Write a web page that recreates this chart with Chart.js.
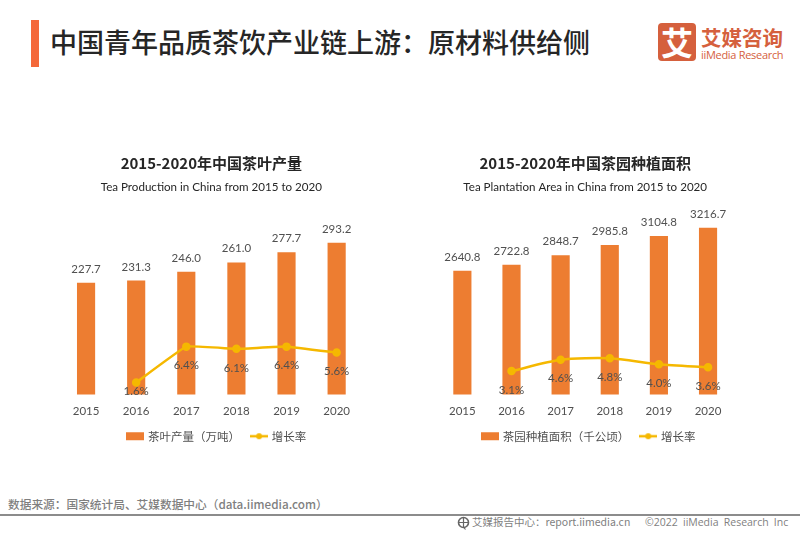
<!DOCTYPE html>
<html lang="zh"><head><meta charset="utf-8">
<script src="https://cdn.jsdelivr.net/npm/chart.js@4"></script>
<style>
html,body{margin:0;padding:0;background:#fff;width:800px;height:533px;overflow:hidden}
body{position:relative;font-family:"Noto Sans CJK SC","Noto Sans",sans-serif}
.a{position:absolute;white-space:nowrap}
canvas{position:absolute}
</style></head><body>
<div class="a" style="left:31px;top:20px;width:8px;height:47px;background:#f4683a"></div>
<div class="a" style="left:50px;top:22px;font-size:27px;line-height:40px;font-weight:500;color:#262626">中国青年品质茶饮产业链上游：原材料供给侧</div>
<div class="a" style="left:658px;top:23px;width:38px;height:38px;border-radius:4px;background:#d5603d;color:#fff;font-size:32px;line-height:37px;font-weight:700;text-align:center">艾</div>
<div class="a" style="left:701px;top:24px;font-size:20.5px;line-height:26px;font-weight:700;color:#d5603d">艾媒咨询</div>
<div class="a" style="left:701px;top:48px;font-family:'Open Sans';font-size:11px;line-height:14px;color:#d5603d;letter-spacing:-.3px">iiMedia Research</div>
<canvas id="c1" width="426" height="302" style="left:0;top:150px;width:426px;height:302px"></canvas>
<canvas id="c2" width="317" height="302" style="left:426px;top:150px;width:317px;height:302px"></canvas>
<div class="a" style="left:8px;top:496px;font-size:11.7px;line-height:16px;font-weight:500;color:#7f7f7f">数据来源：国家统计局、艾媒数据中心（data.iimedia.com）</div>
<div class="a" style="left:0;top:514px;width:800px;height:2px;background:#8c8c8c"></div>
<svg class="a" style="left:457px;top:516px" width="13" height="14" viewBox="0 0 13 14"><circle cx="6.5" cy="6.5" r="5" fill="none" stroke="#666" stroke-width="1.6"/><path d="M2 6.5h9M6.5 1.5v10M6.5 11l2 2.5" fill="none" stroke="#666" stroke-width="1.2"/></svg>
<div class="a" style="left:472px;top:515px;font-size:10.5px;line-height:14px;color:#7f7f7f">艾媒报告中心：report.iimedia.cn</div>
<div class="a" style="left:645px;top:515px;font-family:'Open Sans';font-size:10.5px;line-height:14px;color:#7f7f7f;word-spacing:2.5px">©2022 iiMedia Research Inc</div>
<script>
const years = ['2015','2016','2017','2018','2019','2020'];
const production = [227.7,231.3,246.0,261.0,277.7,293.2];
const productionGrowth = [null,1.6,6.4,6.1,6.4,5.6];
const area = [2640.8,2722.8,2848.7,2985.8,3104.8,3216.7];
const areaGrowth = [null,3.1,4.6,4.8,4.0,3.6];

const BAR='#ed7d31', LINE='#f5b800', TXT='#505050';
const LATIN='Lato, "Noto Sans", sans-serif';

function swatch(kind){
  const c=document.createElement('canvas');c.width=18;c.height=10;
  const x=c.getContext('2d');
  if(kind==='bar'){x.fillStyle=BAR;x.fillRect(0,1,18,8);}
  else{x.strokeStyle=LINE;x.lineWidth=2.5;x.beginPath();x.moveTo(0,5);x.lineTo(18,5);x.stroke();
    x.fillStyle=LINE;x.beginPath();x.arc(9,5,3,0,Math.PI*2);x.fill();}
  return c;
}
const valueLabels={id:'valueLabels',afterDatasetsDraw(chart,args,o){
  const ctx=chart.ctx;ctx.save();
  ctx.font='11.5px '+LATIN;ctx.fillStyle=TXT;ctx.textAlign='center';ctx.textBaseline='middle';
  chart.getDatasetMeta(0).data.forEach((el,i)=>{
    ctx.fillText(chart.data.datasets[0].data[i].toFixed(1),el.x,el.y-14);
  });
  chart.getDatasetMeta(1).data.forEach((el,i)=>{
    const v=chart.data.datasets[1].data[i];
    if(v==null)return;
    const off=(o.lineOffsets&&o.lineOffsets[i])||19;
    ctx.fillText(v.toFixed(1)+'%',el.x,el.y+off);
  });
  ctx.restore();
}};
const legendShift={id:'legendShift',afterLayout(chart,args,o){
  chart.legend.left+=o.dx;chart.legend.right+=o.dx;
}};
function build(id,cfg){
  new Chart(document.getElementById(id),{
    data:{labels:years,datasets:[
      {type:'bar',label:cfg.barName,data:cfg.bars,backgroundColor:BAR,barThickness:17.5,yAxisID:'y',order:2},
      {type:'line',label:'增长率',data:cfg.growth,borderColor:LINE,backgroundColor:LINE,borderWidth:2.5,pointRadius:3,pointHoverRadius:3,tension:cfg.tension,yAxisID:'y1',order:1,spanGaps:false}
    ]},
    options:{responsive:false,animation:false,devicePixelRatio:1,
      layout:{padding:cfg.padding},
      scales:{
        x:{grid:{display:false,drawTicks:false},border:{display:false},afterFit(s){s.height-=10.5;},ticks:{padding:10.4,color:TXT,font:{family:LATIN,size:11.5}}},
        y:{display:false,min:cfg.min,max:cfg.max},
        y1:{display:false,min:0,max:cfg.max1,position:'right'}
      },
      plugins:{
        title:{display:true,text:cfg.title,color:'#262626',font:{family:'"Noto Sans CJK SC"',size:15,weight:'bold'},padding:{top:4,bottom:8.4}},
        subtitle:{display:true,text:cfg.sub,color:'#262626',font:{family:LATIN,size:11.6},padding:{top:0,bottom:6}},
        legend:{position:'bottom',labels:{usePointStyle:true,pointStyleWidth:14,boxHeight:10,padding:12,color:TXT,font:{family:'"Noto Sans CJK SC"',size:11.5},
          generateLabels(ch){return ch.data.datasets.map((d,i)=>({text:d.label,fontColor:TXT,pointStyle:swatch(i===0?'bar':'line'),datasetIndex:i,lineWidth:0,strokeStyle:'transparent',fillStyle:'transparent'}));}}},
        tooltip:{enabled:false},
        valueLabels:{lineOffsets:cfg.lineOffsets},
        legendShift:{dx:cfg.legendDx}
      }
    },
    plugins:[valueLabels,legendShift]
  });
}
build('c1',{barName:'茶叶产量（万吨）',bars:production,growth:productionGrowth,tension:0.08,min:45.7,max:363.2,max1:26,
  title:'2015-2020年中国茶叶产量',sub:'Tea Production in China from 2015 to 2020',
  padding:{left:61,right:64.3,top:0,bottom:0},lineOffsets:[0,8.5],legendDx:6});
build('c2',{barName:'茶园种植面积（千公顷）',bars:area,growth:areaGrowth,tension:0.25,min:994,max:3587,max1:25.8,
  title:'2015-2020年中国茶园种植面积',sub:'Tea Plantation Area in China from 2015 to 2020',
  padding:{left:11.8,right:10.4,top:0,bottom:0},lineOffsets:[],legendDx:4});
</script>
</body></html>
